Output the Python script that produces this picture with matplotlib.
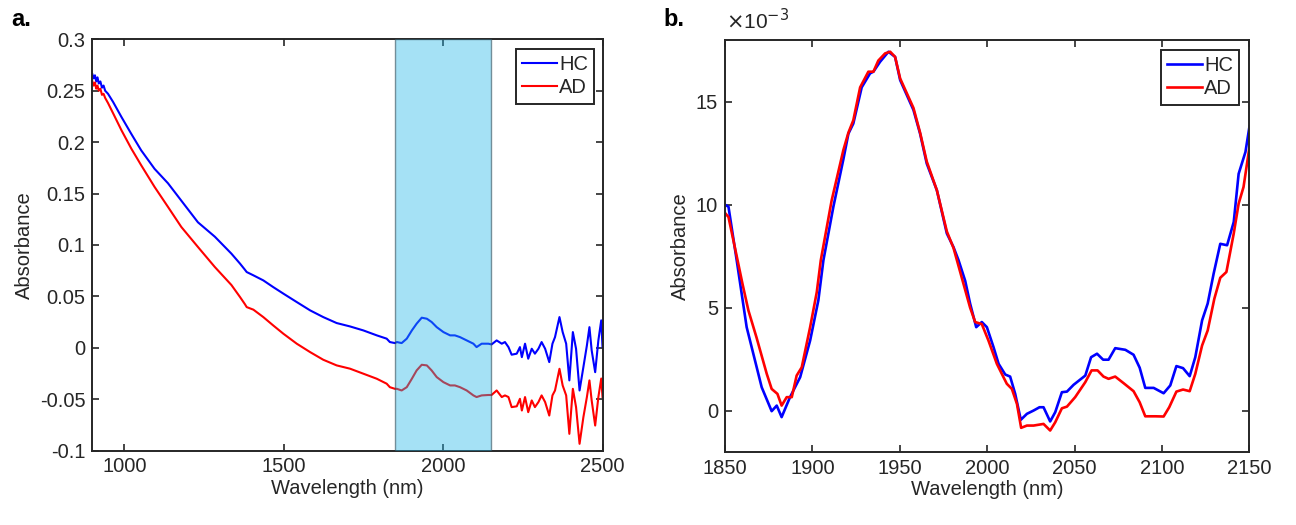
import matplotlib
matplotlib.use("Agg")
import matplotlib.pyplot as plt
from matplotlib.ticker import FuncFormatter, FixedLocator

# ---------------- data: panel a (full spectrum) ----------------
wl_a = [900, 904, 908, 912, 916, 920, 925, 930, 935, 940, 949, 965, 991, 1022, 1053,
        1095, 1137, 1179, 1231, 1284, 1336, 1363, 1378, 1384, 1405, 1436, 1467, 1499,
        1541, 1583, 1624, 1666, 1708, 1750, 1792, 1823, 1833, 1849, 1855, 1870, 1886,
        1902, 1917, 1933, 1949, 1964, 1980, 2001, 2022, 2037, 2053, 2074, 2095, 2105,
        2121, 2142, 2152, 2168, 2184, 2194, 2205, 2215, 2231, 2241, 2247, 2257, 2267,
        2278, 2288, 2299, 2309, 2320, 2333, 2343, 2351, 2365, 2375, 2386, 2396, 2407,
        2417, 2428, 2440, 2451, 2459, 2466, 2477, 2487, 2496, 2500]
hc_a = [0.266, 0.262, 0.265, 0.259, 0.263, 0.257, 0.259, 0.253, 0.255, 0.250, 0.247,
        0.239, 0.2245, 0.208, 0.192, 0.174, 0.160, 0.143, 0.122, 0.108, 0.0915, 0.0818,
        0.076, 0.0736, 0.0704, 0.0655, 0.059, 0.0526, 0.0444, 0.0363, 0.0298, 0.024,
        0.0207, 0.0168, 0.012, 0.0088, 0.0055, 0.0045, 0.0055, 0.0045, 0.0088, 0.0168,
        0.0234, 0.0292, 0.0282, 0.025, 0.020, 0.0152, 0.012, 0.012, 0.0103, 0.0071,
        0.0039, 0.0006, 0.0039, 0.0039, 0.0032, 0.0071, 0.0039, 0.0055, 0.0006, -0.0068,
        -0.0058, 0.0006, -0.0092, 0.0039, -0.0107, -0.001, -0.0058, -0.001, 0.0055,
        -0.001, -0.014, 0.0039, 0.0103, 0.0298, 0.0152, 0.0039, -0.0318, 0.0152, -0.001,
        -0.0416, -0.0189, 0.0022, 0.020, -0.0026, -0.0238, 0.0071, 0.0266, 0.0006]
ad_a = [0.259, 0.255, 0.258, 0.252, 0.255, 0.250, 0.252, 0.246, 0.247, 0.243, 0.238,
        0.228, 0.2116, 0.1937, 0.1775, 0.1564, 0.137, 0.1174, 0.098, 0.0785, 0.061,
        0.0493, 0.0425, 0.0395, 0.037, 0.0298, 0.0217, 0.0136, 0.0039, -0.0043, -0.0117,
        -0.0172, -0.0204, -0.0253, -0.0302, -0.035, -0.0384, -0.040, -0.040, -0.0416,
        -0.0384, -0.0302, -0.0221, -0.0166, -0.0172, -0.0221, -0.0286, -0.0335, -0.0367,
        -0.0367, -0.0384, -0.0416, -0.0464, -0.048, -0.0464, -0.046, -0.046, -0.0416,
        -0.048, -0.0464, -0.048, -0.0578, -0.057, -0.0497, -0.0611, -0.048, -0.0627,
        -0.0513, -0.0578, -0.0529, -0.0464, -0.0529, -0.066, -0.0464, -0.0416, -0.0205,
        -0.0367, -0.0464, -0.0838, -0.040, -0.0578, -0.0935, -0.0676, -0.048, -0.0318,
        -0.0513, -0.0757, -0.048, -0.030, -0.048]
span = (1850, 2150)

# ---------------- data: panel b (zoom 1850-2150 nm, in 1e-3 units) ----------------
hc_wl = [1850, 1852, 1856.7, 1862.4, 1871, 1876.7, 1879.6, 1882.4, 1887.2, 1893, 1898.7,
         1903.4, 1906.3, 1912, 1917.7, 1920.6, 1923.4, 1928.2, 1933, 1934.9, 1938.7,
         1943.5, 1947.3, 1950.2, 1957.8, 1961.6, 1965.4, 1971.2, 1976.9, 1980.7, 1983.6,
         1987.4, 1990.2, 1993.7, 1996.9, 1999.8, 2003.6, 2006.5, 2010.3, 2013.1, 2016,
         2019.2, 2022.7, 2026.5, 2029.9, 2032.2, 2036, 2038.9, 2042.7, 2045.6, 2049.4,
         2056.1, 2059.4, 2062.8, 2066.3, 2069.4, 2073.2, 2079, 2083.7, 2087.2, 2090.4,
         2095.2, 2100.9, 2104.7, 2108.2, 2112, 2115.8, 2119, 2122.9, 2126.1, 2129.5,
         2133.3, 2137.2, 2141, 2143.8, 2147.7, 2150]
hc_b = [10.0, 9.9, 7.3, 4.05, 1.13, -0.03, 0.24, -0.32, 0.65, 1.62, 3.4, 5.35, 7.3, 9.9,
        12.2, 13.45, 13.94, 15.7, 16.38, 16.46, 16.94, 17.43, 17.18, 16.05, 14.6, 13.45,
        12.0, 10.7, 8.6, 7.94, 7.3, 6.3, 5.2, 4.05, 4.3, 4.05, 3.08, 2.27, 1.75, 1.65,
        0.81, -0.45, -0.16, 0.0, 0.16, 0.16, -0.53, -0.08, 0.89, 0.92, 1.25, 1.7, 2.59,
        2.76, 2.47, 2.47, 3.03, 2.95, 2.71, 2.08, 1.1, 1.1, 0.84, 1.22, 2.16, 2.06, 1.67,
        2.59, 4.38, 5.2, 6.65, 8.1, 8.03, 9.16, 11.5, 12.56, 13.8]
ad_wl = [1850, 1852, 1856.7, 1860, 1863.4, 1868, 1873.9, 1876.7, 1880, 1882.4, 1885.3,
         1888.2, 1891, 1893.9, 1898.7, 1902.5, 1904.8, 1911, 1917.7, 1920.6, 1923.4,
         1927.3, 1932, 1934.9, 1937.7, 1941.6, 1944.5, 1947.3, 1950.2, 1957.8, 1961.6,
         1965.4, 1971.2, 1976.9, 1980.7, 1986.4, 1990.2, 1993.1, 1996.9, 2000.7, 2005.5,
         2009.3, 2011.2, 2014.1, 2017, 2019.4, 2022.7, 2026.5, 2032.2, 2036, 2038.9,
         2042.7, 2045.6, 2050.3, 2056.1, 2059.7, 2063.1, 2066.5, 2069.4, 2073.2, 2078,
         2083.7, 2087.2, 2090.4, 2096.2, 2100.9, 2104.1, 2108.2, 2112, 2115.8, 2119,
         2122.9, 2126.1, 2129.9, 2133.3, 2136.8, 2141, 2143.8, 2146.6, 2150]
ad_b = [9.6, 9.4, 7.5, 6.16, 4.86, 3.56, 1.78, 1.05, 0.81, 0.24, 0.65, 0.65, 1.7, 2.1,
        4.05, 5.75, 7.3, 10.2, 12.65, 13.5, 14.1, 15.7, 16.46, 16.46, 17.0, 17.35, 17.43,
        17.18, 16.13, 14.7, 13.5, 12.1, 10.7, 8.7, 7.9, 6.16, 5.0, 4.3, 4.2, 3.4, 2.27,
        1.62, 1.3, 1.05, 0.32, -0.84, -0.73, -0.73, -0.65, -0.97, -0.57, 0.11, 0.19, 0.65,
        1.38, 1.95, 1.95, 1.65, 1.54, 1.65, 1.33, 0.94, 0.4, -0.28, -0.28, -0.29, 0.16,
        0.92, 1.02, 0.94, 1.78, 3.16, 3.89, 5.43, 6.45, 6.73, 8.6, 10.05, 10.86, 12.8]
scale_b = 1e-3

labels = ["HC", "AD"]
a_yticks = [-0.1, -0.05, 0, 0.05, 0.1, 0.15, 0.2, 0.25, 0.3]
a_xticks = [1000, 1500, 2000, 2500]
b_xticks = [1850, 1900, 1950, 2000, 2050, 2100, 2150]
b_yticks = [0, 5e-3, 10e-3, 15e-3]

# ---------------- style ----------------
plt.rcParams['font.family'] = ['Liberation Sans', 'DejaVu Sans']
dark = '#262626'
plt.rcParams.update({
    'text.color': dark, 'axes.labelcolor': dark, 'xtick.color': dark,
    'ytick.color': dark, 'axes.edgecolor': dark, 'axes.linewidth': 1.4,
})

fig = plt.figure(figsize=(12.96, 5.25), dpi=100)
axA = fig.add_axes([0.0713, 0.1419, 0.3936, 0.7832])
axB = fig.add_axes([0.5594, 0.1396, 0.4047, 0.7842])

fs = 14.5
for ax in (axA, axB):
    ax.tick_params(direction='in', length=5, width=1.2, top=True, right=True,
                   labelsize=fs, pad=5)
    ax.set_xlabel("Wavelength (nm)", fontsize=fs, labelpad=2)
    ax.set_ylabel("Absorbance", fontsize=fs, labelpad=4)

# panel a
axA.plot(wl_a, hc_a, color='#0000ff', lw=1.5, label=labels[0], zorder=2)
axA.plot(wl_a, ad_a, color='#ff0000', lw=1.5, label=labels[1], zorder=2)
axA.axvspan(span[0], span[1], facecolor=(0.125, 0.706, 0.91, 0.4),
            edgecolor=(0.2, 0.3, 0.35, 0.6), linewidth=1.0, zorder=3)
axA.set_xlim(900, 2500)
axA.set_ylim(-0.1, 0.3)
axA.xaxis.set_major_locator(FixedLocator(a_xticks))
axA.yaxis.set_major_locator(FixedLocator(a_yticks))
axA.yaxis.set_major_formatter(FuncFormatter(lambda v, p: "%g" % round(v, 4)))

# panel b
axB.plot(hc_wl, [v * scale_b for v in hc_b], color='#0000ff', lw=1.9, label=labels[0])
axB.plot(ad_wl, [v * scale_b for v in ad_b], color='#ff0000', lw=1.9, label=labels[1])
axB.set_xlim(1850, 2150)
axB.set_ylim(-2e-3, 18e-3)
axB.xaxis.set_major_locator(FixedLocator(b_xticks))
axB.yaxis.set_major_locator(FixedLocator(b_yticks))
axB.yaxis.set_major_formatter(FuncFormatter(lambda v, p: "%g" % round(v / scale_b, 3)))
fig.text(0.5605, 0.936, r"$\times$10$^{\mathsf{-3}}$", fontsize=15, ha='left', va='bottom')

for ax, anchor in ((axA, (0.9835, 0.9764)), (axB, (0.980, 0.9757))):
    leg = ax.legend(loc='upper right', bbox_to_anchor=anchor, borderaxespad=0,
                    fontsize=14.5, handlelength=1.75, handletextpad=0.1,
                    borderpad=0.3, labelspacing=0.22, fancybox=False, framealpha=1)
    leg.get_frame().set_edgecolor(dark)
    leg.get_frame().set_linewidth(1.4)

fig.text(0.009, 0.962, "a.", fontsize=17, fontweight='bold', color='black', va='center')
fig.text(0.512, 0.962, "b.", fontsize=17, fontweight='bold', color='black', va='center')

fig.savefig("out.png", dpi=100)
